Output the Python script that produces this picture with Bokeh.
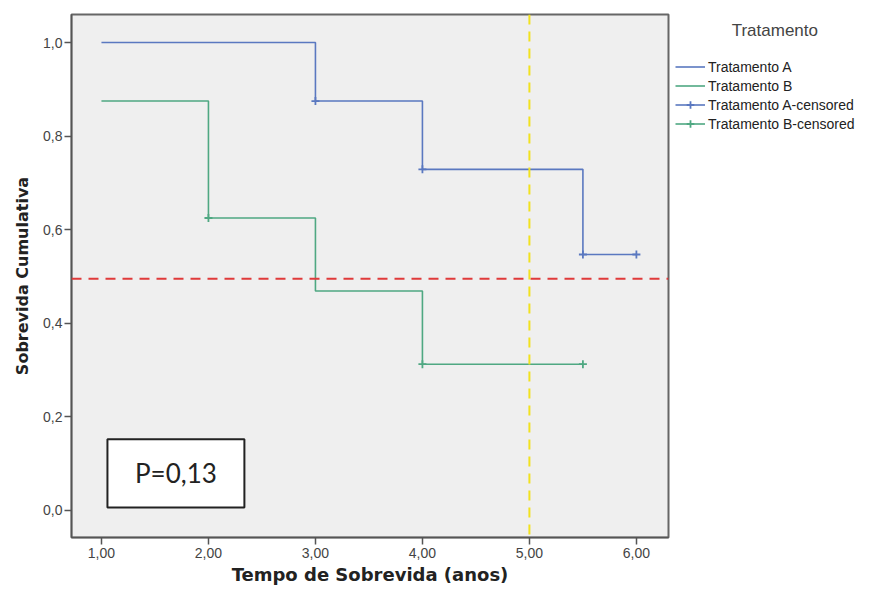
from bokeh.plotting import figure
from bokeh.models import (Span, BoxAnnotation, Label, Legend, LegendItem,
                          FixedTicker, Range1d)
from bokeh.embed import file_html
from bokeh.resources import INLINE

# ---- data ----
a_time = [1.0, 3.0, 4.0, 5.5, 6.0]
a_surv = [1.0, 0.875, 0.729, 0.547, 0.547]
b_time = [1.0, 2.0, 3.0, 4.0, 5.5]
b_surv = [0.875, 0.625, 0.469, 0.3125, 0.3125]
a_cens_time = [3.0, 4.0, 5.5, 6.0]
a_cens_surv = [0.875, 0.729, 0.547, 0.547]
b_cens_time = [2.0, 4.0, 5.5]
b_cens_surv = [0.625, 0.3125, 0.3125]
median_line = 0.495
time_line = 5.0
p_text = "P=0,13"
legend_title = "Tratamento"
x_ticks = [1, 2, 3, 4, 5, 6]
x_tick_labels = ["1,00", "2,00", "3,00", "4,00", "5,00", "6,00"]
y_ticks = [0.0, 0.2, 0.4, 0.6, 0.8, 1.0]
y_tick_labels = ["0,0", "0,2", "0,4", "0,6", "0,8", "1,0"]
series_names = ["Tratamento A", "Tratamento B",
                "Tratamento A-censored", "Tratamento B-censored"]

BLUE = "#5a78c0"
GREEN = "#4fa882"

p = figure(frame_width=597, frame_height=523, output_backend="svg",
           toolbar_location=None,
           x_range=Range1d(0.72, 6.30), y_range=Range1d(-0.058, 1.06),
           min_border_left=71, min_border_right=192, min_border_top=14,
           min_border_bottom=50)
p.background_fill_color = "#efefef"
p.border_fill_color = "white"
p.outline_line_color = "#666666"
p.outline_line_width = 2
p.grid.visible = False

sa = p.step(x=a_time, y=a_surv, mode="after", line_color=BLUE, line_width=1.6)
sb = p.step(x=b_time, y=b_surv, mode="after", line_color=GREEN, line_width=1.6)
ca = p.scatter(x=a_cens_time, y=a_cens_surv, marker="cross", size=8,
               line_color=BLUE, line_width=1.8)
cb = p.scatter(x=b_cens_time, y=b_cens_surv, marker="cross", size=8,
               line_color=GREEN, line_width=1.8)

p.add_layout(Span(location=median_line, dimension="width", line_color="#e03a3a",
                  line_width=2, line_dash="10 7"))
p.add_layout(Span(location=time_line, dimension="height", line_color="#f2e21e",
                  line_width=2, line_dash="10 7"))

p.add_layout(BoxAnnotation(left=1.056, right=2.336, bottom=0.006, top=0.152,
                           fill_color="white", fill_alpha=1.0,
                           line_color="#222222", line_alpha=1.0, line_width=2))
p.add_layout(Label(x=1.696, y=0.079, text=p_text, text_align="center",
                   text_baseline="middle", text_font="Lato",
                   text_font_size="26px", text_color="#222222"))

# axes
for ax in (p.xaxis[0], p.yaxis[0]):
    ax.axis_line_color = "#555555"
    ax.axis_line_width = 1.5
    ax.major_tick_line_color = "#555555"
    ax.major_tick_line_width = 1.5
    ax.major_tick_out = 7
    ax.major_tick_in = 0
    ax.minor_tick_line_color = None
    ax.major_label_text_font = "Liberation Sans"
    ax.major_label_text_font_size = "14px"
    ax.major_label_text_color = "#444444"
    ax.axis_label_text_font = "DejaVu Sans"
    ax.axis_label_text_font_style = "bold"
    ax.axis_label_text_color = "#222222"

p.xaxis.axis_label_text_font_size = "18px"
p.yaxis.axis_label_text_font_size = "16px"
p.xaxis.ticker = FixedTicker(ticks=x_ticks)
p.xaxis.major_label_overrides = dict(zip(x_ticks, x_tick_labels))
p.yaxis.ticker = FixedTicker(ticks=y_ticks)
p.yaxis.major_label_overrides = dict(zip(y_ticks, y_tick_labels))
p.xaxis.axis_label = "Tempo de Sobrevida (anos)"
p.yaxis.axis_label = "Sobrevida Cumulativa"
p.xaxis.major_label_standoff = 3
p.xaxis.axis_label_standoff = 3
p.yaxis.major_label_standoff = 2
p.yaxis.axis_label_standoff = 8

legend = Legend(items=[
    LegendItem(label=series_names[0], renderers=[sa]),
    LegendItem(label=series_names[1], renderers=[sb]),
    LegendItem(label=series_names[2], renderers=[sa, ca]),
    LegendItem(label=series_names[3], renderers=[sb, cb]),
], location="top_left")
legend.title = "\u00a0" * 12 + legend_title
legend.title_text_font = "Liberation Sans"
legend.title_text_font_size = "17px"
legend.title_text_font_style = "normal"
legend.title_text_color = "#444444"
legend.title_standoff = 16
legend.border_line_alpha = 0
legend.background_fill_alpha = 0
legend.margin = 2
legend.padding = 5
legend.spacing = 0
legend.glyph_width = 30
legend.glyph_height = 19
legend.label_height = 19
legend.label_standoff = 3
legend.label_text_font = "Liberation Sans"
legend.label_text_font_size = "14px"
legend.label_text_color = "#222222"
p.add_layout(legend, "right")

open("out.html", "w").write(file_html(p, INLINE))
